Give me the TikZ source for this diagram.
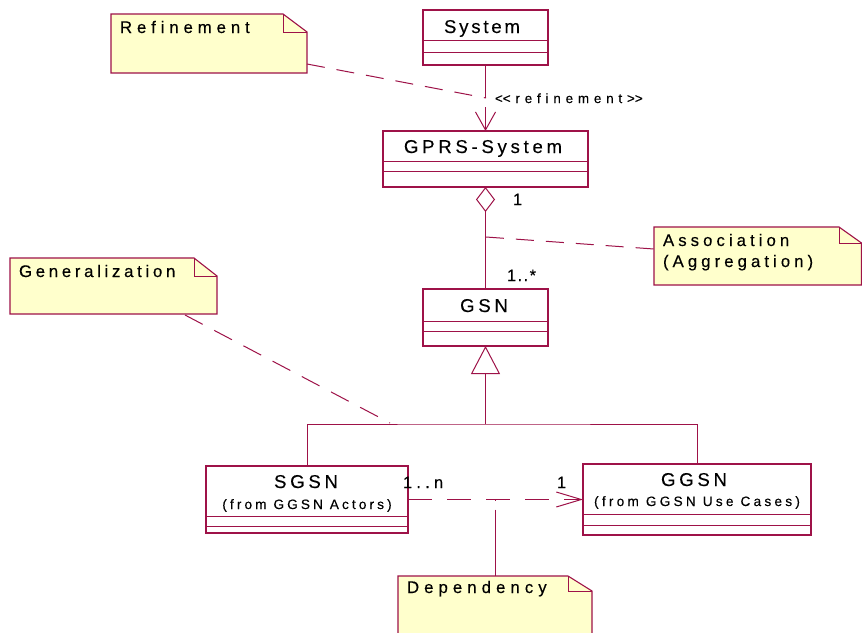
\documentclass[tikz,border=0pt]{standalone}
\usepackage{fontspec}
\newfontfamily\umlfont{Liberation Sans}[FakeBold=0.25]
\usetikzlibrary{arrows.meta,calc}
\definecolor{umlred}{RGB}{158,18,72}
\definecolor{notefill}{RGB}{255,255,204}
\newcommand\ft[2]{\umlfont\fontsize{#1}{#1}\selectfont\addfontfeature{LetterSpace=#2}}
\begin{document}
\begin{tikzpicture}[x=1pt,y=-1pt,
  umlline/.style={draw=umlred,line width=1.1pt},
  classbox/.style={draw=umlred,line width=1.2pt,fill=white,inner sep=0pt,outer sep=0pt},
  noteshape/.style={draw=umlred,line width=1.1pt,fill=notefill},
  notelink/.style={draw=umlred,line width=1pt,dash pattern=on 18pt off 12pt},
  depline/.style={draw=umlred,line width=1pt,dash pattern=on 24pt off 15pt},
  txt/.style={inner sep=0pt,outer sep=0pt,text=black},
  cname/.style={txt,anchor=base,font=\ft{18.6}{20}},
  csub/.style={txt,anchor=base,font=\ft{13.6}{23}},
  ntext/.style={txt,anchor=base west},
  mult/.style={txt,anchor=base west,font=\ft{16.4}{26}}
]
\useasboundingbox (0,0) rectangle (862,632);
\clip (0,0) rectangle (862,632);
\fill[white] (0,0) rectangle (862,632);

% ---------- notes ----------
\path[noteshape] (111,14) -- (283,14) -- (307,32) -- (307,73) -- (111,73) -- cycle;
\draw[umlline,line width=1pt] (283,14) -- (283,32) -- (307,32);
\node[ntext,font=\ft{16.8}{29}] (refntxt) at (120,33) {Refinement};
\coordinate (refn) at (307,64);

\path[noteshape] (654,227) -- (839,227) -- (861.5,243) -- (861.5,285) -- (654,285) -- cycle;
\draw[umlline,line width=1pt] (839,227) -- (839,243) -- (861.5,243);
\node[ntext,font=\ft{16.8}{24}] (asstxt) at (663,246) {Association};
\node[ntext,font=\ft{16.8}{24}] (aggtxt) at (663,267) {(Aggregation)};
\coordinate (assn) at (654,249);

\path[noteshape] (10,258) -- (194,258) -- (217,276) -- (217,314) -- (10,314) -- cycle;
\draw[umlline,line width=1pt] (194,258) -- (194,276) -- (217,276);
\node[ntext,font=\ft{16.8}{22}] (gentxt) at (19,277) {Generalization};
\coordinate (genn) at (185,315);

\path[noteshape] (398,576) -- (568,576) -- (592,591) -- (592,640) -- (398,640) -- cycle;
\draw[umlline,line width=1pt] (568,576) -- (568,591) -- (592,591);
\node[ntext,font=\ft{16.8}{30}] (deptxt) at (407,593) {Dependency};
\coordinate (depn) at (495,576);

% ---------- classes ----------
\node[classbox,minimum width=125pt,minimum height=55pt] (sys) at (485.5,37.5) {};
\draw[umlline,line width=0.9pt] (423,40) -- (548,40) (423,52) -- (548,52);
\node[cname,font=\ft{18.6}{15}] (systxt) at (482,33) {System};

\node[classbox,minimum width=205pt,minimum height=56pt] (gprs) at (485.5,159) {};
\draw[umlline,line width=0.9pt] (383,161) -- (588,161) (383,171) -- (588,171);
\node[cname] (gprstxt) at (483,153) {GPRS-System};

\node[classbox,minimum width=125pt,minimum height=57pt] (gsn) at (485.5,317.5) {};
\draw[umlline,line width=0.9pt] (423,321) -- (548,321) (423,331) -- (548,331);
\node[cname] (gsntxt) at (484,312) {GSN};

\node[classbox,minimum width=202pt,minimum height=67pt] (sgsn) at (307,499.5) {};
\draw[umlline,line width=0.9pt] (206,516) -- (408,516) (206,526) -- (408,526);
\node[cname] (sgsntxt) at (306,488) {SGSN};
\node[csub] (sgsnsub) at (307,509) {(from GGSN Actors)};

\node[classbox,minimum width=228pt,minimum height=71pt] (ggsn) at (697,499.5) {};
\draw[umlline,line width=0.9pt] (583,514) -- (811,514) (583,525) -- (811,525);
\node[cname] (ggsntxt) at (694,486) {GGSN};
\node[csub,font=\ft{13.6}{24}] (ggsnsub) at (697,506) {(from GGSN Use Cases)};

% ---------- connectors ----------
% refinement
\draw[umlline,line width=1pt,dash pattern=on 33pt off 9pt,
  -{Straight Barb[length=18pt,width=20pt,line width=1pt]}] (sys.south) -- (gprs.north);
\coordinate (refpt) at (486,98);
\draw[notelink] (refn) -- (refpt);
\node[txt,anchor=base west,font=\ft{13.4}{36}] (reflbl) at (495,103) {<\kern0pt<refinement>\kern0pt>};

% aggregation
\draw[umlline,line width=1pt,-{Diamond[open,length=25pt,width=19pt,line width=1pt]}] (gsn.north) -- (gprs.south);
\node[mult] (m1) at (513,205) {1};
\node[mult,font=\ft{16.4}{9}] (m2) at (507,281) {1..*};
\coordinate (aggpt) at (486,237);
\draw[notelink] (aggpt) -- (assn);

% generalization
\coordinate (gbar) at (485.5,424);
\draw[umlline,line width=1pt] (sgsn.north) |- (gbar) -| (ggsn.north);
\draw[umlline,line width=1pt,-{Triangle[open,length=28pt,width=29pt,line width=1pt]}] (gbar) -- (gsn.south);
\coordinate (genpt) at (390,423);
\draw[notelink,dash pattern=on 20pt off 13pt] (genn) -- (genpt);

% dependency
\draw[depline,-{Straight Barb[length=25pt,width=15pt,line width=1pt]}] (sgsn.east) -- (ggsn.west);
\node[mult] (m3) at (403,488) {1..n};
\node[mult] (m4) at (557,488) {1};
\coordinate (deppt) at (495,499.5);
\draw[depline,dash pattern=on 1pt off 9pt on 80pt off 0pt] (deppt) -- (depn);
\end{tikzpicture}
\end{document}
